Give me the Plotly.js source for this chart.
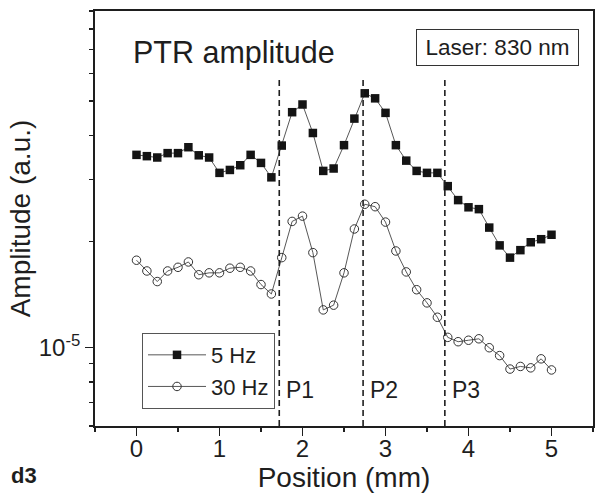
<!DOCTYPE html>
<html>
<head>
<meta charset="utf-8">
<script src="https://cdn.plot.ly/plotly-3.0.1.min.js"></script>
<style>
  html, body { margin: 0; padding: 0; background: #fff; }
  #chart { width: 597px; height: 499px; }
</style>
</head>
<body>
<div id="chart"></div>
<script>
// Position (mm)
var positions = [0, 0.125, 0.25, 0.375, 0.5, 0.625, 0.75, 0.875, 1, 1.125,
  1.25, 1.375, 1.5, 1.625, 1.75, 1.875, 2, 2.125, 2.25, 2.375,
  2.5, 2.625, 2.75, 2.875, 3, 3.125, 3.25, 3.375, 3.5, 3.625,
  3.75, 3.875, 4, 4.125, 4.25, 4.375, 4.5, 4.625, 4.75, 4.875, 5];

// PTR amplitude, 5 Hz (a.u.)
var amp5Hz = [3.52e-5, 3.49e-5, 3.46e-5, 3.56e-5, 3.56e-5, 3.70e-5, 3.51e-5, 3.46e-5, 3.13e-5, 3.19e-5,
  3.29e-5, 3.52e-5, 3.34e-5, 3.04e-5, 3.74e-5, 4.65e-5, 4.89e-5, 4.06e-5, 3.17e-5, 3.22e-5,
  3.75e-5, 4.46e-5, 5.26e-5, 5.09e-5, 4.63e-5, 3.75e-5, 3.39e-5, 3.17e-5, 3.13e-5, 3.13e-5,
  2.87e-5, 2.62e-5, 2.50e-5, 2.47e-5, 2.19e-5, 1.95e-5, 1.80e-5, 1.89e-5, 1.99e-5, 2.03e-5, 2.09e-5];

// PTR amplitude, 30 Hz (a.u.)
var amp30Hz = [1.77e-5, 1.65e-5, 1.54e-5, 1.65e-5, 1.69e-5, 1.75e-5, 1.61e-5, 1.63e-5, 1.63e-5, 1.68e-5,
  1.69e-5, 1.65e-5, 1.51e-5, 1.42e-5, 1.80e-5, 2.28e-5, 2.36e-5, 1.86e-5, 1.28e-5, 1.32e-5,
  1.63e-5, 2.17e-5, 2.55e-5, 2.51e-5, 2.27e-5, 1.88e-5, 1.64e-5, 1.46e-5, 1.34e-5, 1.22e-5,
  1.07e-5, 1.04e-5, 1.05e-5, 1.06e-5, 1.00e-5, 0.95e-5, 0.87e-5, 0.885e-5, 0.877e-5, 0.93e-5, 0.865e-5];

var seriesNames = ['5 Hz', '30 Hz'];

// region boundaries (mm) and labels
var dividers = [1.72, 2.73, 3.715];
var dividerLabels = ['P1', 'P2', 'P3'];

// y axis ticks
var yMajorVals = [1e-5];
var yMajorText = ['10<sup>-5</sup>'];
var yMinorVals = [6e-6, 7e-6, 8e-6, 9e-6, 2e-5, 3e-5, 4e-5, 5e-5, 6e-5, 7e-5, 8e-5, 9e-5];

var FONT = 'Liberation Sans, Arial, Helvetica, sans-serif';
var INK = '#1e1e1e';

var traces = [
  {
    x: positions, y: amp5Hz, name: seriesNames[0],
    type: 'scatter', mode: 'lines+markers',
    line: { color: '#444', width: 0.9 },
    marker: { symbol: 'square', size: 8.5, color: '#141414', line: { width: 0 } }
  },
  {
    x: positions, y: amp30Hz, name: seriesNames[1],
    type: 'scatter', mode: 'lines+markers',
    line: { color: '#444', width: 0.9 },
    marker: { symbol: 'circle-open', size: 8.5, color: '#333', line: { width: 1 } }
  }
];

var shapes = dividers.map(function (d) {
  return {
    type: 'line', xref: 'x', yref: 'paper',
    x0: d, x1: d, y0: 0, y1: 0.836,
    line: { color: INK, width: 1.6, dash: '6px,4px' }
  };
});

var annotations = dividers.map(function (d, i) {
  return {
    xref: 'x', yref: 'paper', x: d, y: 0.087,
    xanchor: 'left', yanchor: 'middle', xshift: 5,
    text: dividerLabels[i], showarrow: false,
    font: { family: FONT, size: 23, color: INK }
  };
});

annotations.push({
  xref: 'paper', yref: 'paper', x: 0.072, y: 0.899,
  xanchor: 'left', yanchor: 'middle',
  text: 'PTR amplitude', showarrow: false,
  font: { family: FONT, size: 30.5, color: INK }
});

annotations.push({
  xref: 'paper', yref: 'paper', x: 0.8086, y: 0.911,
  xanchor: 'center', yanchor: 'middle',
  text: 'Laser: 830 nm', showarrow: false,
  width: 151, height: 25, borderpad: 5,
  bordercolor: '#333', borderwidth: 1, bgcolor: '#fff',
  font: { family: FONT, size: 22.5, color: INK }
});

annotations.push({
  xref: 'paper', yref: 'paper', x: -0.143, y: -0.12,
  xanchor: 'center', yanchor: 'middle',
  text: '<b>d3</b>', showarrow: false,
  font: { family: FONT, size: 22, color: INK }
});

var layout = {
  width: 597, height: 499,
  margin: { l: 95, r: 4, t: 11, b: 73, pad: 0 },
  paper_bgcolor: '#fff', plot_bgcolor: '#fff',
  font: { family: FONT, color: INK },
  showlegend: true,
  legend: {
    x: 0.0944, y: 0.224, xanchor: 'left', yanchor: 'top',
    bordercolor: '#555', borderwidth: 1, bgcolor: 'rgba(255,255,255,0)',
    font: { family: FONT, size: 22, color: INK },
    itemwidth: 58, tracegroupgap: 0
  },
  xaxis: {
    range: [-0.5, 5.5],
    tickmode: 'linear', tick0: 0, dtick: 1,
    ticks: 'outside', ticklen: 8, tickwidth: 1.4, tickcolor: INK,
    minor: { tickmode: 'linear', tick0: 0.5, dtick: 0.5, ticks: 'outside', ticklen: 4, tickwidth: 1.2, tickcolor: INK, showgrid: false },
    showline: true, linecolor: INK, linewidth: 1.8, mirror: true,
    showgrid: false, zeroline: false,
    ticklabelstandoff: -8,
    tickfont: { family: FONT, size: 24, color: INK },
    title: { text: 'Position (mm)', font: { family: FONT, size: 28, color: INK }, standoff: 0 }
  },
  yaxis: {
    type: 'log',
    range: [Math.log10(6e-6), Math.log10(9e-5)],
    tickmode: 'array', tickvals: yMajorVals, ticktext: yMajorText,
    ticks: 'outside', ticklen: 8, tickwidth: 1.4, tickcolor: INK,
    minor: { tickmode: 'array', tickvals: yMinorVals, ticks: 'outside', ticklen: 4.5, tickwidth: 1.2, tickcolor: INK, showgrid: false },
    showline: true, linecolor: INK, linewidth: 1.8, mirror: true,
    showgrid: false, zeroline: false,
    tickfont: { family: FONT, size: 24, color: INK },
    title: { text: 'Amplitude (a.u.)', font: { family: FONT, size: 28, color: INK }, standoff: 0 }
  },
  shapes: shapes,
  annotations: annotations
};

Plotly.newPlot('chart', traces, layout, { displayModeBar: false, staticPlot: true });
</script>
</body>
</html>
